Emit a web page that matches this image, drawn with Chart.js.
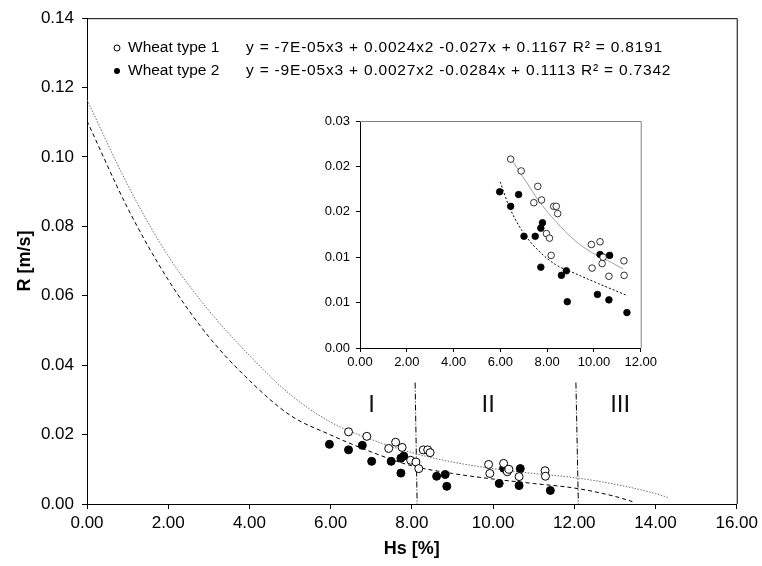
<!DOCTYPE html>
<html>
<head>
<meta charset="utf-8">
<script src="https://cdn.jsdelivr.net/npm/chart.js@4.4.0/dist/chart.umd.min.js"></script>
<style>
  html, body { margin: 0; padding: 0; background: #fff; }
  #wrap { position: relative; width: 762px; height: 566px; }
  #main { position: absolute; left: 0; top: 0; }
  #inset { position: absolute; left: 300px; top: 100px; }
</style>
</head>
<body>
<div id="wrap">
  <canvas id="main" width="762" height="566"></canvas>
  <canvas id="inset" width="360" height="290"></canvas>
</div>
<script>
// ==========================================
// R vs Hs - wheat types, with inset zoom
// ==========================================

const FONT = '"Liberation Sans", Arial, Helvetica, sans-serif';

// Measured points - Wheat type 1 (open circles)
const type1Hs = [6.44, 6.89, 7.43, 7.60, 7.76, 7.97, 8.10, 8.17, 8.28, 8.39, 8.45, 9.89, 9.92, 10.26, 10.35, 10.39, 10.64, 11.28, 11.29];
const type1R  = [0.0208, 0.0195, 0.0160, 0.0178, 0.0163, 0.0126, 0.0121, 0.0102, 0.0156, 0.0156, 0.0148, 0.0114, 0.0088, 0.0117, 0.0093, 0.0100, 0.0079, 0.0096, 0.0080];

// Measured points - Wheat type 2 (filled circles)
const type2Hs = [5.97, 6.44, 6.78, 7.01, 7.49, 7.73, 7.80, 7.73, 8.61, 8.82, 8.86, 10.15, 10.26, 10.67, 10.64, 11.41];
const type2R  = [0.0172, 0.0156, 0.0169, 0.0123, 0.0123, 0.0132, 0.0138, 0.0089, 0.0080, 0.0085, 0.0051, 0.0059, 0.0103, 0.0102, 0.0053, 0.0039];

// Trend curves in the main plot
const fit1Hs = [0, 1, 2, 3, 4, 5, 6, 7, 8, 9, 10, 11, 12, 13, 14, 14.3];
const fit1R  = [0.1165, 0.0920, 0.0715, 0.0558, 0.0428, 0.0316, 0.0236, 0.0186, 0.0148, 0.0121, 0.0102, 0.0088, 0.0076, 0.0057, 0.0030, 0.0019];
const fit2Hs = [0, 1, 2, 3, 4, 5, 6, 7, 8, 9, 10, 11, 12, 13, 13.43];
const fit2R  = [0.1104, 0.0853, 0.0646, 0.0482, 0.0356, 0.0256, 0.0199, 0.0150, 0.0110, 0.0088, 0.0072, 0.0059, 0.0046, 0.0022, 0.0007];

// Trend curves in the inset
const insetFit1Hs = [6.54, 7.08, 7.64, 8.35, 9.20, 10.05, 10.76, 11.25];
const insetFit1R  = [0.0205, 0.0184, 0.0162, 0.0140, 0.0118, 0.0103, 0.0094, 0.0087];
const insetFit2Hs = [5.99, 6.37, 6.93, 7.64, 8.35, 9.20, 10.19, 11.40];
const insetFit2R  = [0.0183, 0.0156, 0.0129, 0.0107, 0.0092, 0.0082, 0.0071, 0.0058];

// Zone dividers (dash-dot) and zone names
const divider1Hs = [8.08, 8.13];
const divider2Hs = [12.04, 12.10];
const dividerR   = [0.035, 0];
const zoneNames  = ['I', 'II', 'III'];
const zoneHs     = [7.01, 9.88, 13.13];
const zoneR      = 0.0285;

// Legend
const seriesNames = ['Wheat type 1', 'Wheat type 2'];
const equations   = [
  'y = -7E-05x3 + 0.0024x2 -0.027x + 0.1167 R\u00B2 = 0.8191',
  'y = -9E-05x3 + 0.0027x2 -0.0284x + 0.1113 R\u00B2 = 0.7342'
];

// Tick labels
const mainXTicks  = ['0.00', '2.00', '4.00', '6.00', '8.00', '10.00', '12.00', '14.00', '16.00'];
const mainYTicks  = ['0.00', '0.02', '0.04', '0.06', '0.08', '0.10', '0.12', '0.14'];
const insetXTicks = ['0.00', '2.00', '4.00', '6.00', '8.00', '10.00', '12.00'];
const insetYTicks = ['0.00', '0.01', '0.01', '0.02', '0.02', '0.03'];

function toPoints(xs, ys) {
  return xs.map((x, i) => ({ x: x, y: Array.isArray(ys) ? ys[i] : ys }));
}

// Top/right frame lines of the plot area
const framePlugin = {
  id: 'frame',
  afterDraw(chart, args, opts) {
    const { ctx, chartArea: a } = chart;
    ctx.save();
    ctx.strokeStyle = opts.color || '#000';
    ctx.lineWidth = 1;
    ctx.beginPath();
    ctx.moveTo(a.left, a.top + 0.5);
    ctx.lineTo(a.right + 0.5, a.top + 0.5);
    ctx.lineTo(a.right + 0.5, a.bottom);
    ctx.stroke();
    ctx.restore();
  }
};

// Zone labels + legend with equations
const annotatePlugin = {
  id: 'annotate',
  afterDatasetsDraw(chart) {
    const { ctx, scales } = chart;
    ctx.save();
    ctx.fillStyle = '#111';
    ctx.font = '24px ' + FONT;
    ctx.textAlign = 'center';
    ctx.textBaseline = 'middle';
    zoneNames.forEach((name, i) => {
      ctx.fillText(name, scales.x.getPixelForValue(zoneHs[i]), scales.y.getPixelForValue(zoneR));
    });

    const rows = [48, 71];
    ctx.textAlign = 'left';
    rows.forEach((y, i) => {
      ctx.beginPath();
      ctx.arc(117, y, 3, 0, Math.PI * 2);
      if (i === 0) {
        ctx.fillStyle = '#fff';
        ctx.fill();
        ctx.strokeStyle = '#000';
        ctx.lineWidth = 1;
        ctx.stroke();
      } else {
        ctx.fillStyle = '#000';
        ctx.fill();
      }
      ctx.fillStyle = '#000';
      ctx.font = '15.5px ' + FONT;
      ctx.letterSpacing = '0px';
      ctx.fillText(seriesNames[i], 128, y);
      ctx.letterSpacing = '0.8px';
      ctx.fillText(equations[i], 246, y);
    });
    ctx.restore();
  }
};

function axisX(min, max, labels, fontSize, tickLen, pad, height, title) {
  const cfg = {
    type: 'linear', min: min, max: max,
    ticks: {
      stepSize: 2, autoSkip: false, maxRotation: 0, color: '#000', padding: pad,
      font: { family: FONT, size: fontSize },
      callback: (v, i) => labels[i]
    },
    grid: { drawOnChartArea: false, tickLength: tickLen, color: '#000' },
    border: { color: '#000', width: 1 },
    afterFit: s => { s.height = height; }
  };
  if (title) cfg.title = title;
  return cfg;
}

function axisY(max, step, labels, fontSize, tickLen, pad, width, title) {
  const cfg = {
    type: 'linear', min: 0, max: max,
    ticks: {
      stepSize: step, autoSkip: false, color: '#000', padding: pad,
      font: { family: FONT, size: fontSize },
      callback: (v, i) => labels[i]
    },
    grid: { drawOnChartArea: false, tickLength: tickLen, color: '#000' },
    border: { color: '#000', width: 1 },
    afterFit: s => { s.width = width; }
  };
  if (title) cfg.title = title;
  return cfg;
}

// 1. Main chart
new Chart(document.getElementById('main').getContext('2d'), {
  type: 'scatter',
  data: {
    datasets: [
      {
        label: 'Wheat type 1', data: toPoints(type1Hs, type1R), order: 0,
        pointRadius: 4, pointBackgroundColor: '#fff', pointBorderColor: '#000', pointBorderWidth: 1
      },
      {
        label: 'Wheat type 2', data: toPoints(type2Hs, type2R), order: 1,
        pointRadius: 4, pointBackgroundColor: '#000', pointBorderColor: '#000', pointBorderWidth: 1
      },
      {
        label: 'fit 1', data: toPoints(fit1Hs, fit1R), order: 3, showLine: true, pointRadius: 0,
        borderColor: '#6e6e6e', borderWidth: 1, borderDash: [1.5, 1.5], cubicInterpolationMode: 'monotone'
      },
      {
        label: 'fit 2', data: toPoints(fit2Hs, fit2R), order: 2, showLine: true, pointRadius: 0,
        borderColor: '#000', borderWidth: 1, borderDash: [4, 3], cubicInterpolationMode: 'monotone'
      },
      {
        label: 'div 1', data: toPoints(divider1Hs, dividerR), order: 4, showLine: true, pointRadius: 0,
        borderColor: '#000', borderWidth: 1, borderDash: [6, 2, 1, 2]
      },
      {
        label: 'div 2', data: toPoints(divider2Hs, dividerR), order: 4, showLine: true, pointRadius: 0,
        borderColor: '#000', borderWidth: 1, borderDash: [6, 2, 1, 2]
      }
    ]
  },
  options: {
    responsive: false,
    animation: false,
    layout: { padding: { left: 0, right: 25, top: 15, bottom: 0 } },
    plugins: { legend: { display: false }, tooltip: { enabled: false }, frame: { color: '#000' } },
    scales: {
      x: axisX(0, 16, mainXTicks, 17, 5, 4, 62, {
        display: true, text: 'Hs [%]', color: '#000',
        font: { family: FONT, size: 18, weight: 'bold' }, padding: { top: 0, bottom: 6 }
      }),
      y: axisY(0.14, 0.02, mainYTicks, 17, 5, 8, 87, {
        display: true, text: 'R [m/s]', color: '#000',
        font: { family: FONT, size: 18, weight: 'bold' }, padding: { top: 14, bottom: 0 }
      })
    }
  },
  plugins: [framePlugin, annotatePlugin]
});

// 2. Inset chart (zoom on measured range)
new Chart(document.getElementById('inset').getContext('2d'), {
  type: 'scatter',
  data: {
    datasets: [
      {
        label: 'Wheat type 1', data: toPoints(type1Hs, type1R), order: 0,
        pointRadius: 3.3, pointBackgroundColor: '#fff', pointBorderColor: '#000', pointBorderWidth: 0.8
      },
      {
        label: 'Wheat type 2', data: toPoints(type2Hs, type2R), order: 1,
        pointRadius: 3.3, pointBackgroundColor: '#000', pointBorderColor: '#000', pointBorderWidth: 0.8
      },
      {
        label: 'fit 1', data: toPoints(insetFit1Hs, insetFit1R), order: 3, showLine: true, pointRadius: 0,
        borderColor: '#a0a0a0', borderWidth: 1, cubicInterpolationMode: 'monotone'
      },
      {
        label: 'fit 2', data: toPoints(insetFit2Hs, insetFit2R), order: 2, showLine: true, pointRadius: 0,
        borderColor: '#000', borderWidth: 1, borderDash: [2, 2], cubicInterpolationMode: 'monotone'
      }
    ]
  },
  options: {
    responsive: false,
    animation: false,
    layout: { padding: { left: 0, right: 17, top: 21, bottom: 0 } },
    plugins: { legend: { display: false }, tooltip: { enabled: false }, frame: { color: '#808080' } },
    scales: {
      x: axisX(0, 12, insetXTicks, 13, 4, 3, 42),
      y: axisY(0.025, 0.005, insetYTicks, 13, 4, 6, 60)
    }
  },
  plugins: [framePlugin]
});
</script>
</body>
</html>
